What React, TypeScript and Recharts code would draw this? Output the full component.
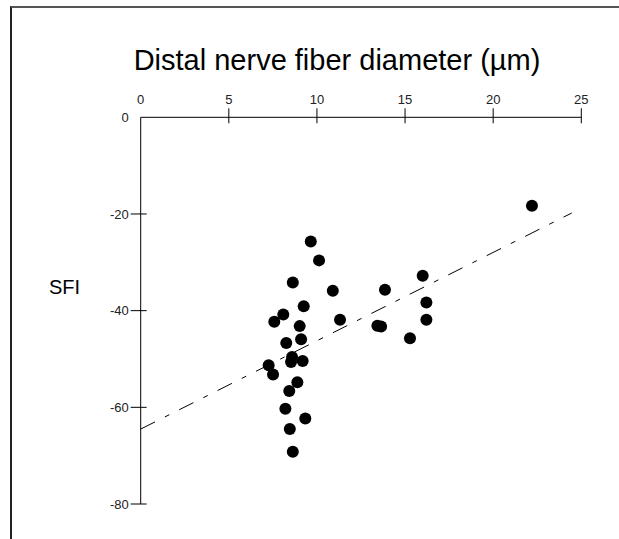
import { ScatterChart, Scatter, XAxis, YAxis, ReferenceLine } from 'recharts';

// fiber diameter (µm) for each animal
const diameters = [
  22.2, 9.65, 10.12, 8.63, 10.9, 13.86, 16.0, 16.21, 16.21, 15.28,
  13.43, 13.64, 11.31, 9.25, 8.09, 7.58, 9.02, 9.1, 8.26, 8.59,
  8.53, 9.19, 7.26, 7.51, 8.89, 8.43, 8.21, 9.34, 8.46, 8.63,
];
// sciatic functional index for each animal
const sfiValues = [
  -18.3, -25.7, -29.6, -34.2, -35.9, -35.7, -32.8, -38.3, -41.9, -45.7,
  -43.1, -43.3, -41.9, -39.1, -40.8, -42.3, -43.2, -45.9, -46.7, -49.6,
  -50.6, -50.4, -51.3, -53.2, -54.8, -56.6, -60.3, -62.3, -64.5, -69.2,
];

const xTicks = [0, 5, 10, 15, 20, 25];
const yTicks = [0, -20, -40, -60, -80];

// regression line end points
const trendX = [0, 24.46];
const trendY = [-64.5, -19.8];

const points = diameters.map((d, i) => ({ x: d, y: sfiValues[i] }));
const trendSegment = trendX.map((x, i) => ({ x, y: trendY[i] }));

const FONT = '"Liberation Sans", Arial, sans-serif';

const XTick = (props: any) => {
  const { x, y, payload } = props;
  return (
    <g>
      {payload.value !== 0 && (
        <line x1={x} x2={x} y1={y + 4} y2={y + 4 + 15} stroke="#000" strokeWidth={1} />
      )}
      <text x={x} y={y} textAnchor="middle" fontSize={13} fontFamily={FONT} fill="#222">
        {payload.value}
      </text>
    </g>
  );
};

const YTick = (props: any) => {
  const { x, y, payload } = props;
  return (
    <g>
      {payload.value !== 0 && (
        <line x1={x + 2} x2={x + 2 + 16} y1={y} y2={y} stroke="#000" strokeWidth={1} />
      )}
      <text x={x} y={y} dy="0.36em" textAnchor="end" fontSize={13} fontFamily={FONT} fill="#222">
        {payload.value}
      </text>
    </g>
  );
};

const Dot = (props: any) => <circle cx={props.cx} cy={props.cy} r={6} fill="#000" />;

export default function App() {
  return (
    <div style={{ position: 'absolute', left: 0, top: 0, width: 619, height: 539, background: '#fff', overflow: 'hidden' }}>
      <div
        style={{
          position: 'absolute', left: 10, top: 6, right: 0, bottom: 0,
          borderTop: '2px solid #555', borderLeft: '2px solid #222',
        }}
      />
      <div
        style={{
          position: 'absolute', left: 0, width: 674, top: 43, textAlign: 'center',
          fontFamily: FONT, fontSize: 29, lineHeight: '34px', color: '#000',
        }}
      >
        Distal nerve fiber diameter (µm)
      </div>
      <div
        style={{
          position: 'absolute', left: 49, top: 275, fontFamily: FONT, fontSize: 20,
          lineHeight: '24px', color: '#000',
        }}
      >
        SFI
      </div>
      <div style={{ position: 'absolute', left: 0, top: 0 }}>
        <ScatterChart width={619} height={539} margin={{ top: 87.3, right: 37.7, bottom: 35, left: 80.7 }}>
          <XAxis
            type="number"
            dataKey="x"
            orientation="top"
            domain={[0, 25]}
            ticks={xTicks}
            height={30}
            axisLine={{ stroke: '#000', strokeWidth: 1 }}
            tickLine={false}
            tickSize={9}
            tickMargin={4}
            tick={XTick}
            allowDataOverflow
          />
          <YAxis
            type="number"
            dataKey="y"
            domain={[-80, 0]}
            ticks={yTicks}
            width={60}
            axisLine={{ stroke: '#000', strokeWidth: 1 }}
            tickLine={false}
            tickSize={10}
            tickMargin={2}
            tick={YTick}
            allowDataOverflow
          />
          <ReferenceLine
            segment={trendSegment}
            stroke="#000"
            strokeWidth={1}
            strokeDasharray="16 11 5 11"
            ifOverflow="visible"
          />
          <Scatter data={points} fill="#000" shape={Dot} isAnimationActive={false} />
        </ScatterChart>
      </div>
    </div>
  );
}
